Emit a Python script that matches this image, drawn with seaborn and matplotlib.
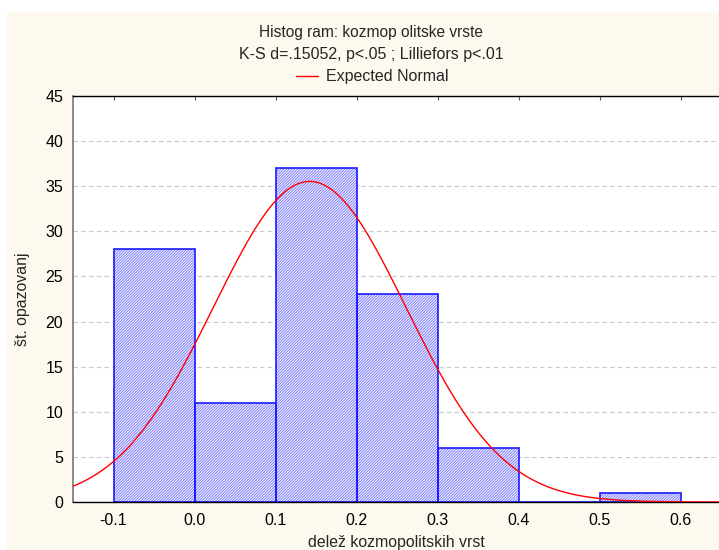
import numpy as np
import pandas as pd
import matplotlib
matplotlib.use("Agg")
import matplotlib.pyplot as plt
from matplotlib.patches import Rectangle
import seaborn as sns

# ---- data ----
bin_edges = [-0.1, 0.0, 0.1, 0.2, 0.3, 0.4, 0.5, 0.6]
counts = [28, 11, 37, 23, 6, 0, 1]
x_ticks = [-0.1, 0.0, 0.1, 0.2, 0.3, 0.4, 0.5, 0.6]
x_tick_labels = ["-0.1", "0.0", "0.1", "0.2", "0.3", "0.4", "0.5", "0.6"]
y_ticks = [0, 5, 10, 15, 20, 25, 30, 35, 40, 45]
normal_mean = 0.142
normal_sd = 0.119
n_obs = 106
title_lines = ["Histog ram: kozmop olitske vrste", "K-S d=.15052, p<.05 ; Lilliefors p<.01"]
legend_label = "Expected Normal"
x_label = "delež kozmopolitskih vrst"
y_label = "št. opazovanj"

sns.set_style("white")
plt.rcParams['font.family'] = ['Liberation Sans', 'DejaVu Sans']
plt.rcParams['hatch.linewidth'] = 0.55

fig = plt.figure(figsize=(7.19, 5.5), dpi=100, facecolor="white")
fig.patches.append(Rectangle((7/719, 0), 1, 1 - 12/550, transform=fig.transFigure,
                             facecolor="#fdf9ef", edgecolor="none", zorder=-10))
ax = fig.add_axes([73/719, 1 - 502/550, 1 - 73/719, (502 - 96)/550])
ax.set_facecolor("white")

mids = [(a + b) / 2 for a, b in zip(bin_edges[:-1], bin_edges[1:])]
df = pd.DataFrame({"x": mids, "w": counts})
# hatched fill
sns.histplot(data=df, x="x", weights="w", bins=bin_edges, ax=ax,
             stat="count", fill=True, color="blue", element="bars")
for p in ax.patches:
    p.set_facecolor("#eeeeff")
    p.set_edgecolor("#6c6cff")
    p.set_hatch("////////////")
    p.set_linewidth(0)
    p.set_alpha(1)
    p.set_zorder(2)
n_fill = len(ax.patches)
# outlines
sns.histplot(data=df, x="x", weights="w", bins=bin_edges, ax=ax,
             stat="count", fill=False, color="blue", element="bars")
for p in ax.patches[n_fill:]:
    p.set_edgecolor("#1a1aff")
    p.set_linewidth(1.2)
    p.set_zorder(2.5)

xs = np.linspace(-0.15, 0.65, 400)
bw = bin_edges[1] - bin_edges[0]
ys = n_obs * bw / (normal_sd * np.sqrt(2 * np.pi)) * np.exp(-0.5 * ((xs - normal_mean) / normal_sd) ** 2)
sns.lineplot(x=xs, y=ys, ax=ax, color="red", linewidth=1.0, label=legend_label, zorder=3)

ax.set_xlim(-0.15, 0.647)
ax.set_ylim(0, 45)
ax.set_xticks(x_ticks)
ax.set_xticklabels(x_tick_labels)
ax.set_yticks(y_ticks)
ax.tick_params(axis="both", labelsize=11.5, colors="black", length=3, width=0.8, pad=6)
ax.tick_params(axis="x", top=True, bottom=False, direction="in", length=3, color="#555555", pad=8)
ax.tick_params(axis="y", left=False, pad=4)
ax.yaxis.grid(True, linestyle=(0, (4, 3)), color="#c8c8c8", linewidth=0.8)
ax.xaxis.grid(False)
ax.set_axisbelow(True)
for s in ["top", "bottom"]:
    ax.spines[s].set_color("black")
    ax.spines[s].set_linewidth(1.0)
ax.spines["left"].set_color("#777777")
ax.spines["left"].set_linewidth(1.2)
ax.spines["right"].set_visible(False)

ax.set_xlabel(x_label, fontsize=11.4, labelpad=5)
ax.set_ylabel(y_label, fontsize=11.4, labelpad=11)

fig.text(371/719, 1 - 33/550, title_lines[0], ha="center", va="center", fontsize=11.2)
fig.text(371/719, 1 - 55/550, title_lines[1], ha="center", va="center", fontsize=11.5)
leg = ax.legend(loc="center", bbox_to_anchor=(372/719, 1 - 77/550),
                bbox_transform=fig.transFigure, frameon=False, fontsize=11.5,
                handlelength=1.4, handletextpad=0.5, borderpad=0)

fig.savefig("out.png", dpi=100, facecolor=fig.get_facecolor())
